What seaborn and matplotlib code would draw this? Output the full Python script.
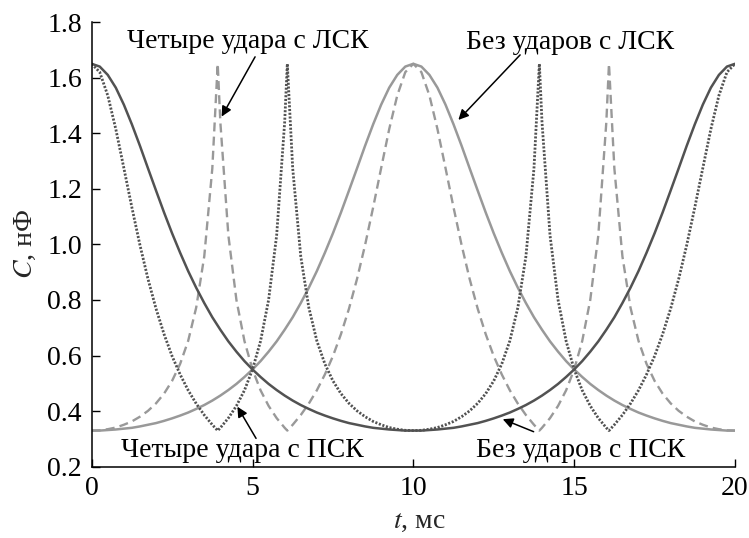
import numpy as np
import pandas as pd
import matplotlib
matplotlib.use("Agg")
import matplotlib.pyplot as plt
import seaborn as sns

# Time grid, ms
t_smooth = np.arange(0, 20.001, 0.25)
# Impact instants (cusps) inserted into the grid for the four-impact curves
t_cusps = [3.918, 6.082, 13.918, 16.082]
t_impact = np.sort(np.concatenate([t_smooth, t_cusps]))

# Capacitance, nF — no impacts, right-hand (PSK) and left-hand (LSK) reference frames
c_free_psk = [
    1.650, 1.640, 1.610, 1.564, 1.503, 1.432, 1.355, 1.274, 1.194, 1.115,
    1.040, 0.970, 0.904, 0.844, 0.789, 0.738, 0.693, 0.651, 0.614, 0.580,
    0.550, 0.523, 0.498, 0.476, 0.456, 0.438, 0.422, 0.408, 0.395, 0.384,
    0.374, 0.365, 0.357, 0.351, 0.345, 0.340, 0.337, 0.334, 0.332, 0.330,
    0.330,
    0.330, 0.332, 0.334, 0.337, 0.340, 0.345, 0.351, 0.357, 0.365, 0.374,
    0.384, 0.395, 0.408, 0.422, 0.438, 0.456, 0.476, 0.498, 0.523, 0.550,
    0.580, 0.614, 0.651, 0.693, 0.738, 0.789, 0.844, 0.904, 0.970, 1.040,
    1.115, 1.194, 1.274, 1.355, 1.432, 1.503, 1.564, 1.610, 1.640, 1.650,
]
c_free_lsk = [
    0.330, 0.330, 0.332, 0.334, 0.337, 0.340, 0.345, 0.351, 0.357, 0.365,
    0.374, 0.384, 0.395, 0.408, 0.422, 0.438, 0.456, 0.476, 0.498, 0.523,
    0.550, 0.580, 0.614, 0.651, 0.693, 0.738, 0.789, 0.844, 0.904, 0.970,
    1.040, 1.115, 1.194, 1.274, 1.355, 1.432, 1.503, 1.564, 1.610, 1.640,
    1.650,
    1.640, 1.610, 1.564, 1.503, 1.432, 1.355, 1.274, 1.194, 1.115, 1.040,
    0.970, 0.904, 0.844, 0.789, 0.738, 0.693, 0.651, 0.614, 0.580, 0.550,
    0.523, 0.498, 0.476, 0.456, 0.438, 0.422, 0.408, 0.395, 0.384, 0.374,
    0.365, 0.357, 0.351, 0.345, 0.340, 0.337, 0.334, 0.332, 0.330, 0.330,
]

# Capacitance, nF — four impacts per period
c_impact_psk = [
    1.650, 1.620, 1.536, 1.415, 1.275, 1.133, 0.998, 0.876, 0.769, 0.677,
    0.598, 0.532, 0.475, 0.427, 0.386, 0.351,
    0.330,
    0.340, 0.375, 0.419, 0.475, 0.550, 0.652, 0.800, 1.032, 1.440,
    1.650,
    1.273, 0.957, 0.773, 0.653, 0.570, 0.509, 0.463, 0.428, 0.401, 0.380,
    0.363, 0.351, 0.341, 0.335, 0.331, 0.330,
    0.331, 0.335, 0.341, 0.351, 0.363, 0.380, 0.401, 0.428, 0.463, 0.509,
    0.570, 0.653, 0.773, 0.957, 1.273,
    1.650,
    1.440, 1.032, 0.800, 0.652, 0.550, 0.475, 0.419, 0.375, 0.340,
    0.330,
    0.351, 0.386, 0.427, 0.475, 0.532, 0.598, 0.677, 0.769, 0.876, 0.998,
    1.133, 1.275, 1.415, 1.536, 1.620, 1.650,
]
c_impact_lsk = [
    0.330, 0.331, 0.335, 0.341, 0.351, 0.363, 0.380, 0.401, 0.428, 0.463,
    0.509, 0.570, 0.653, 0.773, 0.957, 1.273,
    1.650,
    1.440, 1.032, 0.800, 0.652, 0.550, 0.475, 0.419, 0.375, 0.340,
    0.330,
    0.351, 0.386, 0.427, 0.475, 0.532, 0.598, 0.677, 0.769, 0.876, 0.998,
    1.133, 1.275, 1.415, 1.536, 1.620, 1.650,
    1.620, 1.536, 1.415, 1.275, 1.133, 0.998, 0.876, 0.769, 0.677, 0.598,
    0.532, 0.475, 0.427, 0.386, 0.351,
    0.330,
    0.340, 0.375, 0.419, 0.475, 0.550, 0.652, 0.800, 1.032, 1.440,
    1.650,
    1.273, 0.957, 0.773, 0.653, 0.570, 0.509, 0.463, 0.428, 0.401, 0.380,
    0.363, 0.351, 0.341, 0.335, 0.331, 0.330,
]

x_ticks = [0, 5, 10, 15, 20]
y_ticks = [0.2, 0.4, 0.6, 0.8, 1.0, 1.2, 1.4, 1.6, 1.8]

labels = {
    "impact_lsk": "Четыре удара с ЛСК",
    "free_lsk": "Без ударов с ЛСК",
    "impact_psk": "Четыре удара с ПСК",
    "free_psk": "Без ударов с ПСК",
}

sns.set_style("ticks")
plt.rcParams["font.family"] = ["Liberation Serif", "DejaVu Serif"]
plt.rcParams["mathtext.fontset"] = "stix"
plt.rcParams["axes.linewidth"] = 1.1

DARK = "#525252"
LIGHT = "#999999"
FS = 20

fig = plt.figure(figsize=(7.49, 5.38), dpi=100)
ax = fig.add_axes([0.1224, 0.1325, 0.8589, 0.8264])

df_free = pd.DataFrame({"t": t_smooth, "psk": c_free_psk, "lsk": c_free_lsk})
df_imp = pd.DataFrame({"t": t_impact, "psk": c_impact_psk, "lsk": c_impact_lsk})

sns.lineplot(data=df_free, x="t", y="lsk", ax=ax, color=LIGHT, lw=1.8)
sns.lineplot(data=df_imp, x="t", y="lsk", ax=ax, color=LIGHT, lw=1.7,
             linestyle=(0, (3.8, 2.2)))
sns.lineplot(data=df_free, x="t", y="psk", ax=ax, color=DARK, lw=1.8)
sns.lineplot(data=df_imp, x="t", y="psk", ax=ax, color=DARK, lw=2.0,
             linestyle=(0, (0.75, 0.6)))

ax.set_xlim(0, 20)
ax.set_ylim(0.2, 1.8)
ax.set_xticks(x_ticks)
ax.set_xticklabels([str(v) for v in x_ticks])
ax.set_yticks(y_ticks)
ax.set_yticklabels([f"{v:.1f}" for v in y_ticks])
ax.tick_params(direction="in", length=6, width=1.0, labelsize=FS, pad=7,
               colors="black")
sns.despine(ax=ax)
for s in ("left", "bottom"):
    ax.spines[s].set_color("black")

ax.set_xlabel("$t$, мс", fontsize=FS)
ax.set_ylabel("$C$, нФ", fontsize=FS)
ax.xaxis.set_label_coords(0.51, -0.095)
ax.yaxis.set_label_coords(-0.083, 0.5)

arrow = dict(arrowstyle="-|>", color="black", lw=1.1, mutation_scale=15,
             shrinkA=0, shrinkB=0)
notes = [
    ("impact_lsk", (4.85, 1.706), (5.08, 1.675), (4.04, 1.46)),
    ("free_lsk", (14.88, 1.703), (13.32, 1.682), (11.40, 1.448)),
    ("impact_psk", (4.69, 0.234), (5.11, 0.302), (4.53, 0.416)),
    ("free_psk", (15.21, 0.234), (13.74, 0.326), (12.78, 0.371)),
]
for key, txt_xy, tail, tip in notes:
    ax.text(*txt_xy, labels[key], ha="center", va="baseline", fontsize=FS,
            color="black", zorder=5)
    ax.annotate("", xy=tip, xytext=tail, arrowprops=arrow, zorder=6)

fig.savefig("out.png", dpi=100)
